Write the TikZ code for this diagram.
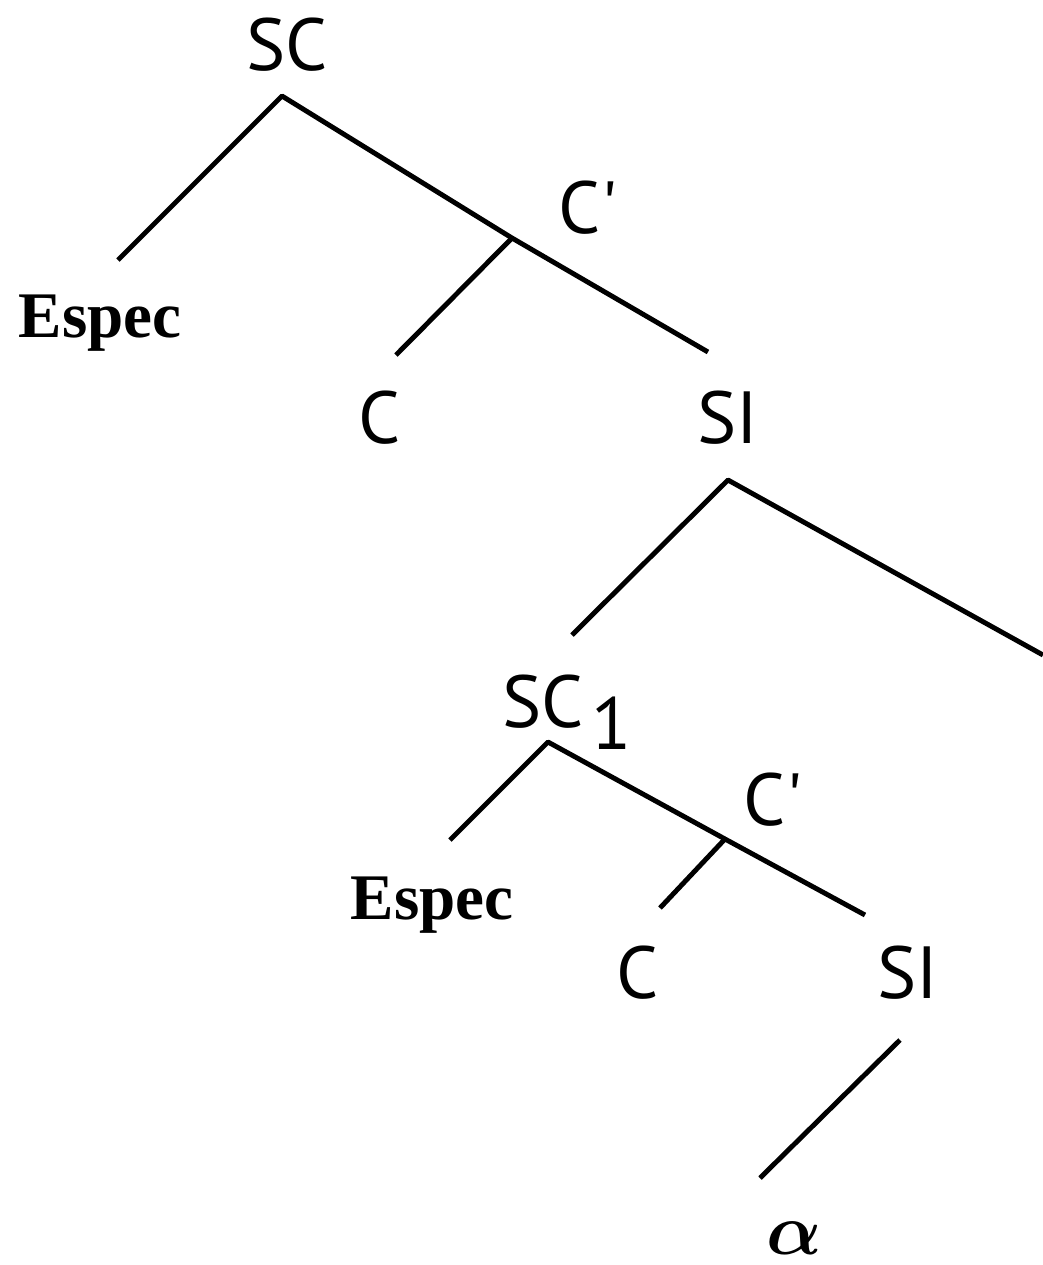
\documentclass[tikz,border=0pt]{standalone}
\usepackage{fontspec}
\usepackage{tikz}
\newfontfamily\catfont{PT Sans}
\newfontfamily\wordfont{Liberation Serif}
\tikzset{
 cat/.style={font=\catfont\fontsize{21}{23}\selectfont,inner sep=0pt},
 word/.style={font=\wordfont\bfseries\fontsize{18.5}{21}\selectfont,inner sep=0pt},
 greek/.style={font=\fontsize{21}{23}\selectfont\boldmath,inner sep=0pt},
 branch/.style={line width=1.4pt,line join=round}
}
\begin{document}
\begin{tikzpicture}[x=0.01cm,y=-0.01cm]
\useasboundingbox (0,0) rectangle (1043,1265);
% upper tree: SC
\node[cat] (sc) at (287,45) {SC};
\node[word] (espec) at (100,323) {Espec};
\node[cat] (cbar) at (588,208) {C\textquotesingle};
\node[cat] (c) at (380,418) {C};
\node[cat] (si) at (728,418) {SI};
\coordinate (scTop) at (282,96);
\coordinate (especEnd) at (118,260);
\coordinate (cbarJoin) at (512,238);
\coordinate (cEnd) at (396,355);
\coordinate (siEnd) at (708,352);
\draw[branch] (especEnd) -- (scTop) -- (cbarJoin) -- (siEnd);
\draw[branch] (cbarJoin) -- (cEnd);
% SI opens into SC_1 and a branch off the edge
\coordinate (siTop) at (728,480);
\coordinate (sconeEnd) at (572,635);
\coordinate (offEdge) at (1043,655);
\draw[branch] (sconeEnd) -- (siTop) -- (offEdge);
% lower tree: SC_1
\node[cat] (scone) at (567,712) {SC\kern2pt\raisebox{-0.6ex}{1}};
\node[word] (especTwo) at (432,905) {Espec};
\node[cat] (cbarTwo) at (773,800) {C\textquotesingle};
\node[cat] (cTwo) at (638,973) {C};
\node[cat] (siTwo) at (908,973) {SI};
\coordinate (sconeTop) at (548,742);
\coordinate (especTwoEnd) at (450,840);
\coordinate (cbarTwoJoin) at (725,839);
\coordinate (cTwoEnd) at (660,908);
\coordinate (siTwoEnd) at (865,915);
\draw[branch] (especTwoEnd) -- (sconeTop) -- (cbarTwoJoin) -- (siTwoEnd);
\draw[branch] (cbarTwoJoin) -- (cTwoEnd);
% SI dominates alpha
\node[greek] (alpha) at (794,1238) {$\alpha$};
\coordinate (siTwoTop) at (900,1040);
\coordinate (alphaEnd) at (760,1178);
\draw[branch] (siTwoTop) -- (alphaEnd);
\end{tikzpicture}
\end{document}
